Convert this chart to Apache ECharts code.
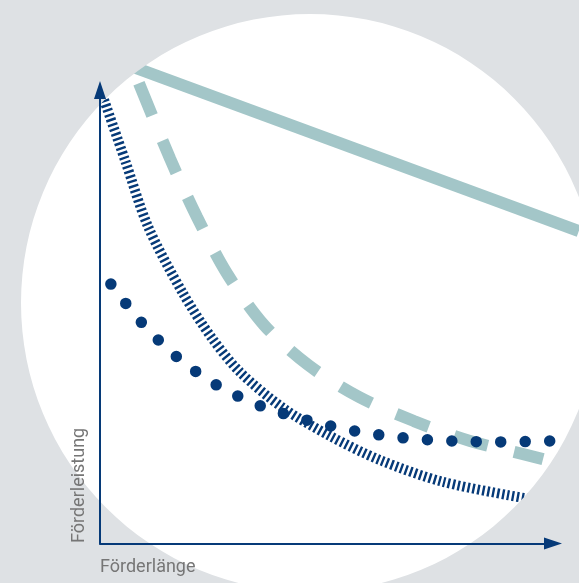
<!DOCTYPE html>
<html><head><meta charset="utf-8">
<script src="https://cdn.jsdelivr.net/npm/echarts@6/dist/echarts.min.js"></script>
<style>html,body{margin:0;padding:0;background:#dee1e4}#c{width:579px;height:583px}</style>
</head><body><div id="c"></div>
<script>
// Axis titles
const xAxisName = 'Förderlänge';
const yAxisName = 'Förderleistung';
// Series names (qualitative schematic curves)
const seriesNames = ['Linie 1', 'Linie 2', 'Linie 3', 'Linie 4'];
// Values in relative units (0–100)
const straightLine = [[6.2, 105.5], [105.7, 68.9]];
const dashedCurve = [[8.6, 101.5], [15.5, 84.8], [21.4, 72.0], [28.0, 59.6], [36.2, 48.2], [45.9, 39.4], [57.2, 32.3], [69.3, 27.0], [81.7, 22.6], [94.3, 19.5], [97.8, 18.6]];
const hatchedCurve = [[0.9, 97.8], [5.5, 84.6], [10.6, 69.9], [18.3, 55.2], [24.7, 45.3], [30.9, 37.8], [40.4, 29.9], [50.8, 23.7], [61.8, 18.4], [75.7, 13.6], [94.9, 9.8]];
const dottedCurve = [[2.4, 57.2], [9.1, 48.8], [17.0, 41.1], [25.8, 34.9], [35.5, 30.3], [45.7, 27.2], [56.3, 24.8], [66.9, 23.3], [77.7, 22.6], [88.5, 22.4], [99.3, 22.6]];

const teal = '#a3c6c8';
const navy = '#063a78';
const grey = '#dee1e4';
const textGrey = '#767676';

// plot geometry: 4.53 px per unit horizontally, 4.535 px per unit vertically
const gridLeft = 100, gridRight = 26, gridTop = 90, gridBottom = 39.5;
const pxPerX = (579 - gridLeft - gridRight) / 100;
const pxPerY = (583 - gridTop - gridBottom) / 100;
// extended (invisible) grid with the same scale, reaching the canvas edges
const extRight = 0, extTop = 40;
const extMaxX = (579 - gridLeft - extRight) / pxPerX;
const extMaxY = (583 - extTop - gridBottom) / pxPerY;

const chart = echarts.init(document.getElementById('c'), null, {renderer: 'canvas'});
const axisCommon = {
  type: 'value', min: 0, max: 100, z: 10,
  axisLine: {show: true, symbol: ['none', 'triangle'], symbolSize: [12, 18], lineStyle: {color: navy, width: 2}},
  axisTick: {show: false}, axisLabel: {show: false}, splitLine: {show: false}
};
const hiddenAxis = {type: 'value', min: 0, show: false, splitLine: {show: false}};
const font = '18px "Liberation Sans Narrow", "Roboto", sans-serif';
chart.setOption({
  animation: false,
  backgroundColor: '#ffffff',
  grid: [
    {left: gridLeft, right: gridRight, top: gridTop, bottom: gridBottom, outerBoundsMode: 'none'},
    {left: gridLeft, right: extRight, top: extTop, bottom: gridBottom, outerBoundsMode: 'none'}
  ],
  xAxis: [Object.assign({gridIndex: 0}, axisCommon), Object.assign({gridIndex: 1, max: extMaxX}, hiddenAxis)],
  yAxis: [Object.assign({gridIndex: 0}, axisCommon), Object.assign({gridIndex: 1, max: extMaxY}, hiddenAxis)],
  graphic: [
    {type: 'ring', shape: {cx: 310, cy: 303, r: 1200, r0: 289}, style: {fill: grey}, z: 5, silent: true},
    {type: 'text', x: 100, y: 567, z: 20, silent: true,
      style: {text: xAxisName, fill: textGrey, font: font, textAlign: 'left', textVerticalAlign: 'middle'}},
    {type: 'text', x: 79, y: 543, rotation: Math.PI / 2, z: 20, silent: true,
      style: {text: yAxisName, fill: textGrey, font: font, textAlign: 'left', textVerticalAlign: 'middle'}}
  ],
  series: [
    {name: seriesNames[0], type: 'line', xAxisIndex: 1, yAxisIndex: 1, data: straightLine, showSymbol: false, clip: false, silent: true,
      lineStyle: {color: teal, width: 12, cap: 'butt'}},
    {name: seriesNames[1], type: 'line', data: dashedCurve, showSymbol: false, clip: false, silent: true, smooth: 0.3,
      lineStyle: {color: teal, width: 12, cap: 'butt', type: [35, 27]}},
    {name: seriesNames[2], type: 'line', data: hatchedCurve, showSymbol: false, clip: false, silent: true, smooth: 0.3,
      lineStyle: {color: navy, width: 10, cap: 'butt', type: [2.4, 2.6]}},
    {name: seriesNames[3], type: 'line', data: dottedCurve, showSymbol: false, clip: false, silent: true, smooth: 0.3,
      lineStyle: {color: navy, width: 11.5, cap: 'round', type: [0, 24.45]}}
  ]
});
</script></body></html>
